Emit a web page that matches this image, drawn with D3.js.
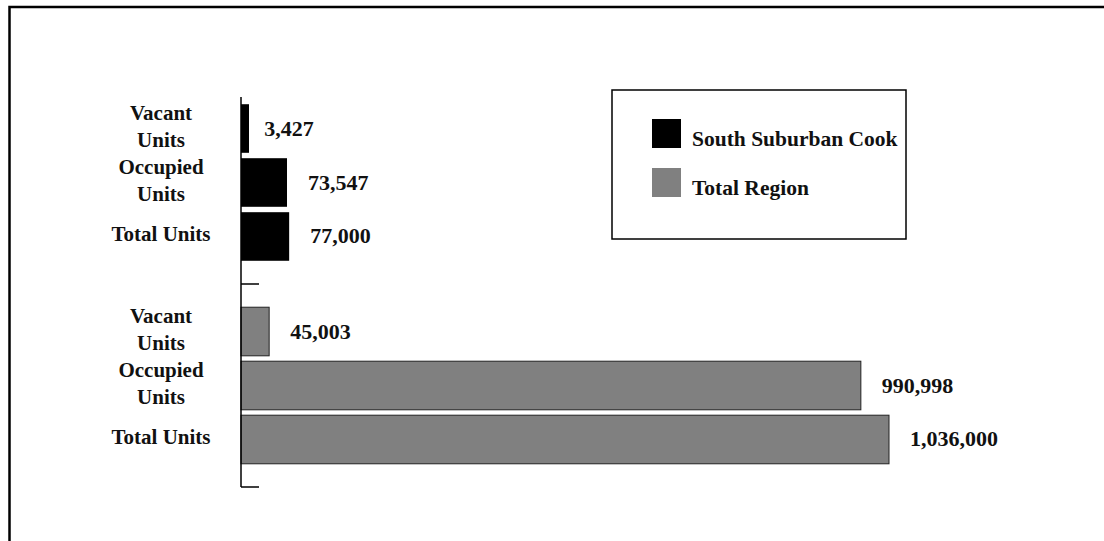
<!DOCTYPE html>
<html>
<head>
<meta charset="utf-8">
<script src="https://cdn.jsdelivr.net/npm/d3@7"></script>
<style>
  body { margin: 0; background: #fff; }
  svg { display: block; font-family: "Liberation Serif", "Times New Roman", serif; font-weight: bold; }
</style>
</head>
<body>
<svg id="chart" width="1104" height="541"></svg>
<script>
const regions = ["South Suburban Cook", "Total Region"];
const measures = ["Vacant Units", "Occupied Units", "Total Units"];
const measureLines = [["Vacant", "Units"], ["Occupied", "Units"], ["Total Units"]];
const southSuburbanCook = [3427, 73547, 77000];
const totalRegion = [45003, 990998, 1036000];
const regionColors = ["#000000", "#808080"];

const rows = [];
regions.forEach((region, ri) => {
  const values = ri === 0 ? southSuburbanCook : totalRegion;
  measures.forEach((measure, mi) => {
    rows.push({ region, measure, lines: measureLines[mi], value: values[mi], color: regionColors[ri] });
  });
});

const svg = d3.select("#chart");

// outer frame, runs off the page on the right and bottom
svg.append("rect")
  .attr("x", 9.5).attr("y", 7)
  .attr("width", 1200).attr("height", 700)
  .attr("fill", "none").attr("stroke", "#000").attr("stroke-width", 2.5);

const axisX = 241;

const x = d3.scaleLinear()
  .domain([0, d3.max(totalRegion)])
  .range([axisX, 889]);

const yGroup = d3.scaleBand()
  .domain(regions)
  .range([81, 487]);

const yBar = d3.scaleBand()
  .domain(measures)
  .range([0, yGroup.bandwidth()])
  .paddingInner(0.1)
  .paddingOuter(0.43);

const barY = (d) => yGroup(d.region) + yBar(d.measure);
const barMid = (d) => barY(d) + yBar.bandwidth() / 2;

svg.append("g")
  .selectAll("rect")
  .data(rows)
  .join("rect")
  .attr("x", axisX)
  .attr("y", barY)
  .attr("width", (d) => Math.max(x(d.value) - axisX, 8))
  .attr("height", yBar.bandwidth())
  .attr("fill", (d) => d.color)
  .attr("stroke", (d) => (d.color === "#000000" ? "none" : "#222"))
  .attr("stroke-width", 1);

// axis line with ticks at the bottom of each group
svg.append("line")
  .attr("x1", axisX).attr("x2", axisX)
  .attr("y1", 97).attr("y2", yGroup.range()[1])
  .attr("stroke", "#000").attr("stroke-width", 1.5);

svg.append("g")
  .selectAll("line")
  .data(regions)
  .join("line")
  .attr("x1", axisX).attr("x2", axisX + 18)
  .attr("y1", (d) => yGroup(d) + yGroup.bandwidth())
  .attr("y2", (d) => yGroup(d) + yGroup.bandwidth())
  .attr("stroke", "#000").attr("stroke-width", 1.5);

// value labels
svg.append("g")
  .selectAll("text")
  .data(rows)
  .join("text")
  .attr("x", (d) => x(d.value) + 21)
  .attr("y", (d) => barMid(d) + 7)
  .attr("font-size", 22)
  .attr("fill", "#111")
  .text((d) => d3.format(",")(d.value));

// category labels
const cat = svg.append("g")
  .selectAll("text")
  .data(rows)
  .join("text")
  .attr("text-anchor", "middle")
  .attr("font-size", 21)
  .attr("fill", "#111");

cat.selectAll("tspan")
  .data((d) => d.lines.map((line, i) => ({ line, i, n: d.lines.length, mid: barMid(d) })))
  .join("tspan")
  .attr("x", 161)
  .attr("y", (t) => t.mid + 5 - (t.n - 1) * 13.5 + t.i * 27)
  .text((t) => t.line);

// legend
const legend = svg.append("g");
legend.append("rect")
  .attr("x", 612).attr("y", 90)
  .attr("width", 294).attr("height", 149)
  .attr("fill", "#fff").attr("stroke", "#000").attr("stroke-width", 1.5);

const items = legend.selectAll("g")
  .data(regions)
  .join("g")
  .attr("transform", (d, i) => `translate(652, ${119 + i * 49})`);

items.append("rect")
  .attr("width", 29).attr("height", 29)
  .attr("fill", (d, i) => regionColors[i]);

items.append("text")
  .attr("x", 40).attr("y", 27)
  .attr("font-size", 21.5)
  .attr("fill", "#111")
  .text((d) => d);
</script>
</body>
</html>
